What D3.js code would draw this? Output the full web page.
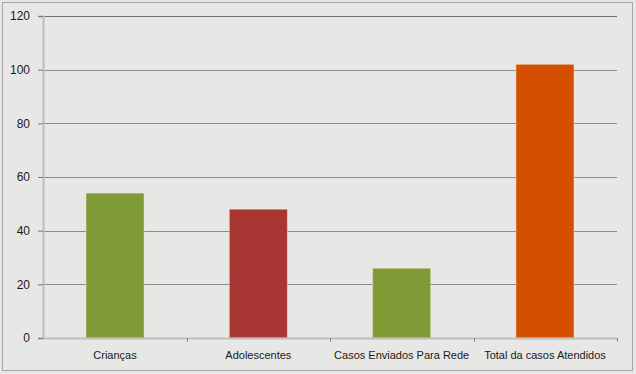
<!DOCTYPE html>
<html>
<head>
<meta charset="utf-8">
<script src="https://cdn.jsdelivr.net/npm/d3@7"></script>
<style>
  body { margin: 0; background: #e7e7e5; }
  svg text { font-family: "Liberation Sans", Arial, sans-serif; fill: #1a1a1a; }
</style>
</head>
<body>
<div id="chart"></div>
<script>
var categories = ["Crianças", "Adolescentes", "Casos Enviados Para Rede", "Total da casos Atendidos"];
var values = [54, 48, 26, 102];
var barColors = ["#7e9b36", "#a83633", "#7e9b36", "#d45000"];
var yTicks = [0, 20, 40, 60, 80, 100, 120];

var W = 636, H = 374;
var margin = {top: 16, right: 19, bottom: 36, left: 43},
    width = W - margin.left - margin.right,
    height = H - margin.top - margin.bottom;

var root = d3.select("#chart")
    .append("svg")
    .attr("width", W)
    .attr("height", H);

// outer frame
root.append("rect")
    .attr("x", 2.5).attr("y", 2.5)
    .attr("width", W - 6).attr("height", H - 6)
    .attr("fill", "#e7e7e5")
    .attr("stroke", "#a6a6a6")
    .attr("stroke-width", 1);

var svg = root.append("g")
    .attr("transform", "translate(" + margin.left + "," + margin.top + ")");

var x = d3.scaleBand()
    .domain(categories)
    .range([0, width])
    .paddingInner(0.595)
    .paddingOuter(0.3);

var y = d3.scaleLinear()
    .domain([0, 120])
    .range([height, 0]);

// gridlines
svg.selectAll(".grid")
    .data(yTicks.filter(function(d) { return d > 0; }))
    .enter()
    .append("line")
    .attr("x1", 0).attr("x2", width)
    .attr("y1", function(d) { return Math.round(y(d)) + 0.5; })
    .attr("y2", function(d) { return Math.round(y(d)) + 0.5; })
    .attr("stroke", function(d) { return d === 120 ? "#6e6e6e" : "#8a8a8a"; })
    .attr("stroke-width", 1);

// bars
svg.selectAll(".bar")
    .data(values)
    .enter()
    .append("rect")
    .attr("x", function(d, i) { return x(categories[i]); })
    .attr("y", function(d) { return y(d); })
    .attr("width", x.bandwidth())
    .attr("height", function(d) { return height - y(d); })
    .attr("fill", function(d, i) { return barColors[i]; })
    .attr("stroke", "#f3e6c8")
    .attr("stroke-opacity", 0.5)
    .attr("stroke-width", 1);

// y axis
var yAxis = svg.append("g")
    .call(d3.axisLeft(y).tickValues(yTicks).tickSize(5).tickPadding(8));
yAxis.select(".domain").attr("stroke", "#bdbdbd").attr("stroke-width", 2);
yAxis.selectAll(".tick line").attr("stroke", "#777");
yAxis.selectAll(".tick text")
    .style("font-size", "12px")
    .attr("fill", "#111");

// x axis
var xg = svg.append("g")
    .attr("transform", "translate(0," + height + ")");
xg.append("line")
    .attr("x1", 0).attr("x2", width)
    .attr("y1", 0.5).attr("y2", 0.5)
    .attr("stroke", "#bdbdbd")
    .attr("stroke-width", 2);
xg.selectAll(".xt")
    .data(d3.range(1, categories.length + 1))
    .enter()
    .append("line")
    .attr("x1", function(i) { return Math.round(i * width / categories.length) + 0.5; })
    .attr("x2", function(i) { return Math.round(i * width / categories.length) + 0.5; })
    .attr("y1", 0).attr("y2", 4)
    .attr("stroke", "#888");
xg.selectAll(".xl")
    .data(categories)
    .enter()
    .append("text")
    .attr("x", function(d) { return x(d) + x.bandwidth() / 2; })
    .attr("y", 21)
    .attr("text-anchor", "middle")
    .style("font-size", "11px")
    .text(function(d) { return d; });
</script>
</body>
</html>
